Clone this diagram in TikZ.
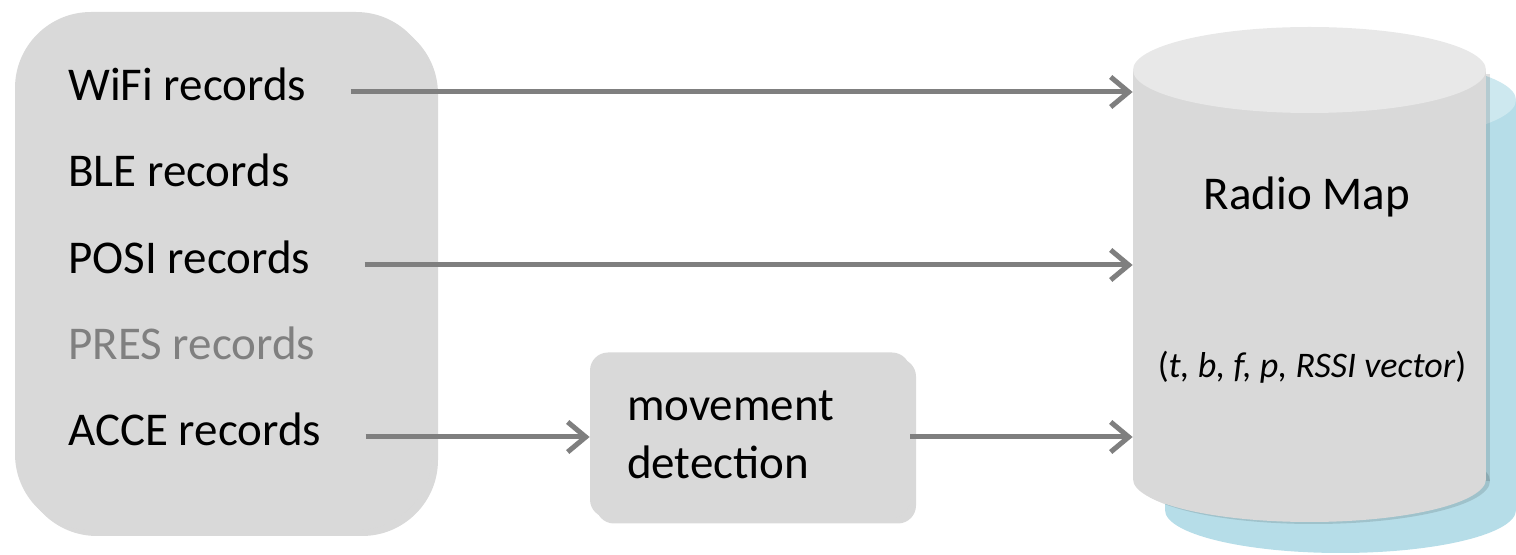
\documentclass[tikz,border=0pt]{standalone}
\usepackage{fontspec}
\setmainfont{Carlito}
\usetikzlibrary{arrows.meta,shadows}
\definecolor{boxgray}{HTML}{D9D9D9}
\definecolor{topgray}{HTML}{E8E8E8}
\definecolor{arrowgray}{HTML}{7F7F7F}
\definecolor{mapblue}{HTML}{B6DDE8}
\definecolor{mapbluetop}{HTML}{CDE8EF}
\definecolor{fadedtext}{HTML}{808080}

\begin{document}
\begin{tikzpicture}[x=0.5pt, y=-0.5pt,
  recbox/.style={fill=boxgray, inner sep=0pt, drop shadow={shadow xshift=3pt, shadow yshift=-3pt, opacity=0.3}},
  rectext/.style={anchor=west, inner sep=0pt, font=\fontsize{23.5}{28}\selectfont, text height=16pt, text depth=7pt},
  flow/.style={-{Straight Barb[length=9pt,width=15pt]}, line width=2.5pt, draw=arrowgray}]
\useasboundingbox (0,0) rectangle (1516,555);
\node[recbox, rounded corners=38pt, minimum width=208.5pt, minimum height=259pt] (records) at (223.5,271) {};
\node[rectext] (wifi) at (68,92) {WiFi records};
\node[rectext] (ble) at (68,178) {BLE records};
\node[rectext] (posi) at (68,265) {POSI records};
\node[rectext, text=fadedtext] (pres) at (68,351) {PRES records};
\node[rectext] (acce) at (68,437) {ACCE records};
\node[recbox, rounded corners=9pt, minimum height=82.5pt, inner xsep=18.5pt, text width=123pt, align=left, font=\fontsize{23.5}{29}\selectfont] (movedet) at (750,435) {movement\\detection};
% radio map cylinder
\fill[mapblue] (1165,100) rectangle (1516,510);
\fill[mapblue] (1340.5,510) ellipse [x radius=87.75pt, y radius=21.5pt];
\fill[mapbluetop] (1340.5,100) ellipse [x radius=87.75pt, y radius=21.5pt];
\fill[black, opacity=0.12] (1137,74) rectangle (1490,481);
\fill[black, opacity=0.12] (1313.5,481) ellipse [x radius=88.25pt, y radius=21.5pt];
\fill[boxgray] (1133,70) rectangle (1486,479);
\fill[boxgray] (1309.5,479) ellipse [x radius=88.25pt, y radius=21.5pt];
\fill[topgray] (1309.5,70) ellipse [x radius=88.25pt, y radius=21.5pt];
\node[minimum width=176.5pt, minimum height=204.5pt, inner sep=0pt] (radiomap) at (1309.5,274.5) {};
\node[font=\fontsize{23.5}{28}\selectfont] (maptitle) at (1307,197) {Radio Map};
\node[font=\fontsize{18}{22}\selectfont] (maptuple) at (1312,367) {(\textit{t, b, f, p, RSSI vector})};
\draw[flow] ([xshift=22pt]wifi.east) -- (wifi -| radiomap.west);
\draw[flow] ([xshift=27pt]posi.east) -- (posi -| radiomap.west);
\draw[flow] ([xshift=22pt]acce.east) -- (acce -| movedet.west);
\draw[flow] (acce -| movedet.east) -- (acce -| radiomap.west);
\end{tikzpicture}
\end{document}
